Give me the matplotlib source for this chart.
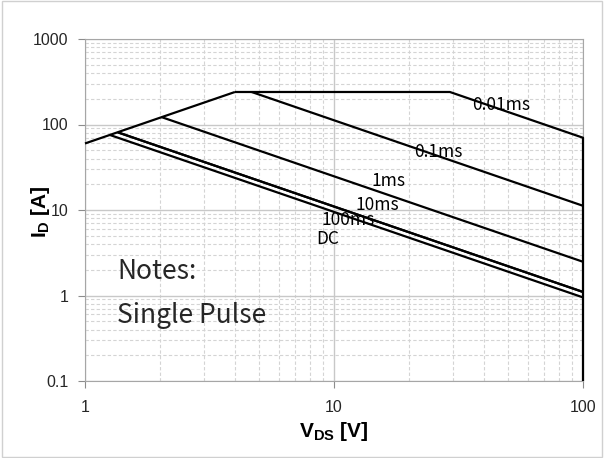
import numpy as np
import matplotlib
matplotlib.use("Agg")
import matplotlib.pyplot as plt
from matplotlib.patches import Rectangle
from matplotlib.ticker import LogLocator, NullFormatter

plt.rcParams['font.family'] = ['Liberation Sans', 'DejaVu Sans']
plt.rcParams['mathtext.fontset'] = 'custom'
plt.rcParams['mathtext.rm'] = 'Liberation Sans'
plt.rcParams['mathtext.bf'] = 'Liberation Sans:bold'

# SOA boundary segments (V_DS [V], I_D [A])
rds_v = [1, 4.0]
rds_i = [60, 240]
ms001_v = [4.0, 29.2, 100, 100]
ms001_i = [240, 240, 70, 0.1]
ms01_v = [4.67, 100]
ms01_i = [240, 11.2]
ms1_v = [2.03, 100]
ms1_i = [122, 2.48]
ms10_v = [1.354, 100]
ms10_i = [81, 1.10]
ms100_v = [1.354, 100]   # drawn on top of the 10ms line in the original
ms100_i = [81, 1.10]
dc_v = [1.258, 100]
dc_i = [75.5, 0.95]

# curve labels and their positions (data coords)
curve_labels = ["0.01ms", "0.1ms", "1ms", "10ms", "100ms", "DC"]
label_v = [47.1, 26.2, 16.5, 14.9, 11.4, 9.43]
label_i = [167, 48.2, 21.9, 11.4, 7.6, 4.57]

x_ticks = [1, 10, 100]
y_ticks = [0.1, 1, 10, 100, 1000]
y_ticklabels = ["0.1", "1", "10", "100", "1000"]

fig = plt.figure(figsize=(6.04, 4.58), dpi=100)
ax = fig.add_axes([85 / 604, 1 - 381 / 458, 498 / 604, 342 / 458])

ax.set_xscale('log')
ax.set_yscale('log')
ax.set_xlim(1, 100)
ax.set_ylim(0.1, 1000)

# grid: solid major, dashed minor
ax.xaxis.set_minor_locator(LogLocator(base=10, subs=np.arange(2, 10)))
ax.yaxis.set_minor_locator(LogLocator(base=10, subs=np.arange(2, 10)))
ax.xaxis.set_minor_formatter(NullFormatter())
ax.yaxis.set_minor_formatter(NullFormatter())
ax.grid(True, which='major', color='#c8c8c8', linewidth=1.0)
ax.grid(True, which='minor', color='#d4d4d4', linewidth=0.8, linestyle=(0, (3, 2)))
ax.set_axisbelow(True)

for seg_v, seg_i in [(rds_v, rds_i), (ms001_v, ms001_i), (ms01_v, ms01_i),
                     (ms1_v, ms1_i), (ms10_v, ms10_i), (ms100_v, ms100_i),
                     (dc_v, dc_i)]:
    ax.plot(seg_v, seg_i, color='black', linewidth=1.6, solid_capstyle='butt',
            clip_on=False, zorder=3)

cjk = ['Noto Sans CJK SC', 'DejaVu Sans']
for lab, lv, li in zip(curve_labels, label_v, label_i):
    ax.text(lv, li, lab, fontsize=12.5, ha='center', va='center',
            family=cjk, zorder=4)

ax.text(1.35, 1.89, "Notes:", fontsize=19, ha='left', va='center',
        family=cjk, color='#262626')
ax.text(1.35, 0.587, "Single Pulse", fontsize=19, ha='left', va='center',
        family=cjk, color='#262626')

ax.set_xticks(x_ticks)
ax.set_xticklabels([str(v) for v in x_ticks])
ax.set_yticks(y_ticks)
ax.set_yticklabels(y_ticklabels)
ax.tick_params(which='major', direction='out', length=5, width=0.8,
               color='#8c8c8c', labelsize=11.5, labelcolor='#262626')
ax.tick_params(axis='x', which='major', pad=9)
ax.tick_params(axis='y', which='major', pad=7)
ax.tick_params(which='minor', length=0)

for side in ['left', 'bottom', 'top', 'right']:
    ax.spines[side].set_color('#a6a6a6')
    ax.spines[side].set_linewidth(0.8)

ax.set_xlabel(r'$\mathbf{V_{DS}}$ [V]', fontsize=15, fontweight='bold', labelpad=3)
ax.set_ylabel(r'$\mathbf{I_D}$ [A]', fontsize=15, fontweight='bold')
ax.yaxis.set_label_coords(-0.090, 0.494)
ax.yaxis.label.set_va('center')

# chart frame
fig.patches.append(Rectangle((0.004, 0.003), 0.992, 0.994, transform=fig.transFigure,
                             fill=False, edgecolor='#d0d0d0', linewidth=1.0))

fig.savefig("out.png", dpi=100)
